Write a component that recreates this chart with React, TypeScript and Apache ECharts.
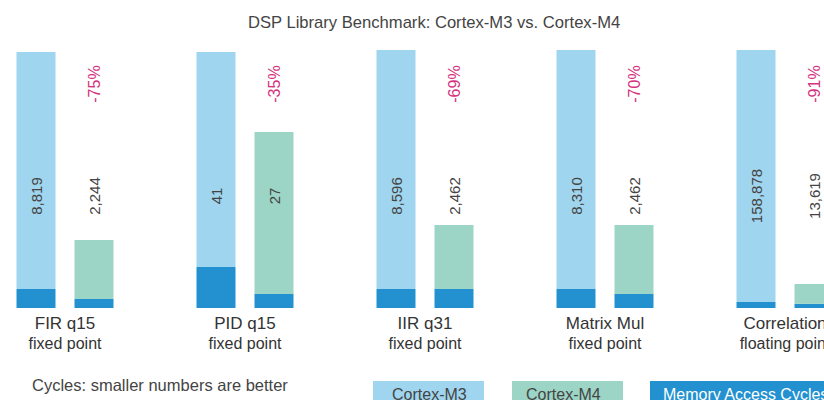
import React, { useEffect, useRef } from "react";
import * as echarts from "echarts";

const categories = ["FIR q15", "PID q15", "IIR q31", "Matrix Mul", "Correlation"];
const subtitles = ["fixed point", "fixed point", "fixed point", "fixed point", "floating point"];
const m3Cycles = [8819, 41, 8596, 8310, 158878];
const m4Cycles = [2244, 27, 2462, 2462, 13619];
const reductions = ["-75%", "-35%", "-69%", "-70%", "-91%"];
// bar heights as drawn (percent of the tallest bar)
const m3Height = [99.2, 99.2, 100, 100, 100];
const m4Height = [26.4, 68.2, 32.2, 32.2, 9.3];
const m3Memory = [7.4, 15.9, 7.4, 7.4, 2.3];
const m4Memory = [3.5, 5.4, 7.4, 5.4, 1.6];
const legendItems = ["Cortex-M3", "Cortex-M4", "Memory Access Cycles"];

const FONT = '"Liberation Sans", Arial, sans-serif';
const C_M3 = "#9fd5ee";
const C_M4 = "#9cd4c5";
const C_MEM = "#2391d0";
const C_PCT = "#d5317d";
const C_TXT = "#444444";

const VALUE_LEVEL = 43.4;
const PCT_LEVEL = 86.8;
const HALF_STEP = 29;

const fmt = (n: number) => n.toLocaleString("en-US");

export default function App() {
  const ref = useRef<HTMLDivElement>(null);
  useEffect(() => {
    if (!ref.current) return;
    const chart = echarts.init(ref.current, undefined, { renderer: "svg" });
    const txt = (s: string, x: number, y: number, size: number, fill: string, align = "left") => ({
      type: "text",
      x,
      y,
      style: {
        text: s,
        fill,
        font: `${size}px ${FONT}`,
        align,
        verticalAlign: "middle",
        textAlign: align,
        textVerticalAlign: "middle",
      },
    });
    const legendColors = [C_M3, C_M4, C_MEM];
    const legendBoxX = [373, 512, 650];
    const legendBoxW = [111, 111, 220];
    const legendTextX = [392, 526, 663];
    const legendTextC = [C_TXT, C_TXT, "#ffffff"];
    const graphic: any[] = [
      txt("DSP Library Benchmark: Cortex-M3 vs. Cortex-M4", 248, 22, 16.6, C_TXT),
      txt("Cycles: smaller numbers are better", 32, 385, 16.5, C_TXT),
    ];
    legendItems.forEach((name, i) => {
      graphic.push({
        type: "rect",
        shape: { x: legendBoxX[i], y: 381, width: legendBoxW[i], height: 30 },
        style: { fill: legendColors[i] },
      });
      graphic.push(txt(name, legendTextX[i], 394, 16, legendTextC[i]));
    });

    chart.setOption({
      animation: false,
      grid: { left: -25, width: 900, top: 50, bottom: 92, outerBoundsMode: "none", containLabel: false },
      graphic,
      xAxis: {
        type: "category",
        data: categories,
        axisLine: { show: false },
        axisTick: { show: false },
        axisLabel: {
          interval: 0,
          margin: 5,
          hideOverlap: false,
          formatter: (v: string, i: number) => `{a|${v}}\n{b|${subtitles[i]}}`,
          rich: {
            a: { fontSize: 17, color: "#333", lineHeight: 20, fontFamily: FONT },
            b: { fontSize: 16, color: "#333", lineHeight: 20, fontFamily: FONT },
          },
        },
      },
      yAxis: { type: "value", min: 0, max: 100, show: false },
      series: [
        { type: "bar", stack: "m3", data: m3Memory, itemStyle: { color: C_MEM }, barWidth: 39, barGap: "48.7%" },
        { type: "bar", stack: "m3", data: m3Height.map((h, i) => +(h - m3Memory[i]).toFixed(2)), itemStyle: { color: C_M3 }, barWidth: 39, barGap: "48.7%" },
        { type: "bar", stack: "m4", data: m4Memory, itemStyle: { color: C_MEM }, barWidth: 39, barGap: "48.7%" },
        { type: "bar", stack: "m4", data: m4Height.map((h, i) => +(h - m4Memory[i]).toFixed(2)), itemStyle: { color: C_M4 }, barWidth: 39, barGap: "48.7%" },
        {
          type: "custom",
          z: 10,
          data: categories.map((_, i) => [i, VALUE_LEVEL]),
          encode: { x: 0, y: 1 },
          renderItem: (params: any, api: any) => {
            const i = params.dataIndex;
            const v = api.coord([i, VALUE_LEVEL]);
            const p = api.coord([i, PCT_LEVEL]);
            return {
              type: "group",
              children: [
                txt(fmt(m3Cycles[i]), v[0] - HALF_STEP, v[1], 15, C_TXT, "center"),
                txt(fmt(m4Cycles[i]), v[0] + HALF_STEP, v[1], 15, C_TXT, "center"),
                txt(reductions[i], p[0] + HALF_STEP, p[1], 16, C_PCT, "center"),
              ].map((t: any) => ({ ...t, rotation: Math.PI / 2, z2: 100 })),
            };
          },
        },
      ],
    });
    return () => chart.dispose();
  }, []);
  return (
    <div
      ref={ref}
      style={{ position: "fixed", left: 0, top: 0, width: 824, height: 400, background: "#fff" }}
    />
  );
}
